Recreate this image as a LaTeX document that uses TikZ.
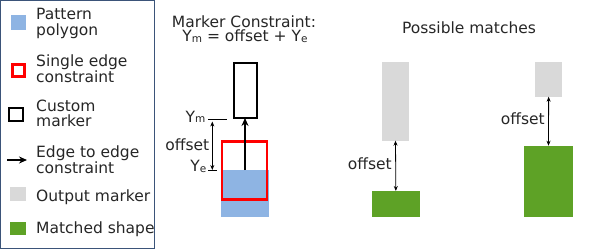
\documentclass[tikz,border=0pt]{standalone}
\usepackage{fontspec}
\setmainfont{DejaVu Sans}
\usetikzlibrary{arrows.meta}

\definecolor{patblue}{HTML}{8EB4E3}
\definecolor{outgray}{HTML}{D9D9D9}
\definecolor{matchgreen}{HTML}{5EA226}
\definecolor{framec}{HTML}{3B5479}
\definecolor{txt}{HTML}{262626}

% small letter set on the baseline, as in Y_m and Y_e
\newcommand{\lowidx}[1]{\raisebox{-0.6pt}{\fontsize{10.5}{10.5}\selectfont #1}}

\tikzset{
  plainrect/.style={rectangle, inner sep=0pt, outer sep=0pt},
  patfill/.style={plainrect, fill=patblue},
  edgebox/.style={plainrect, draw=red, line width=2.7pt},
  markbox/.style={plainrect, draw=black, line width=2pt},
  outbox/.style={plainrect, fill=outgray},
  matchbox/.style={plainrect, fill=matchgreen},
  constr/.style={-{Stealth[length=8pt,width=7pt]}, line width=1.8pt},
  dimline/.style={{Stealth[length=5pt,width=4pt]}-{Stealth[length=5pt,width=4pt]}, line width=0.8pt},
  tickline/.style={line width=0.8pt},
  lbl/.style={anchor=base west, inner sep=0pt},
  rlbl/.style={anchor=base east, inner sep=0pt},
  ttl/.style={anchor=base, inner sep=0pt},
}

\begin{document}
\begin{tikzpicture}[x=1pt, y=-1pt, font=\fontsize{15.5}{17}\selectfont, text=txt]
\useasboundingbox (0,0) rectangle (605,250);

% ---- legend ----
\node[plainrect, draw=framec, line width=1pt, minimum width=154pt, minimum height=248pt] (legend) at (77.5,124.8) {};

\node[patfill, minimum width=15pt, minimum height=15pt] (lgpat) at (18,22.5) {};
\node[lbl] (lgpatA) at (36,19.5) {Pattern};
\node[lbl] (lgpatB) at (36,35) {polygon};

\node[edgebox, minimum width=12.5pt, minimum height=12.5pt] (lgedge) at (18.5,70.5) {};
\node[lbl] (lgedgeA) at (36,66) {Single edge};
\node[lbl] (lgedgeB) at (36,82) {constraint};

\node[markbox, minimum width=13.5pt, minimum height=13pt] (lgmark) at (16,114) {};
\node[lbl] (lgmarkA) at (36,111) {Custom};
\node[lbl] (lgmarkB) at (36,126.5) {marker};

\coordinate (lgarrS) at (7,160);
\coordinate (lgarrE) at (27,160);
\draw[-{Stealth[length=8pt,width=7pt]}, line width=1.3pt] (lgarrS) -- (lgarrE);
\node[lbl] (lgarrA) at (36,157.5) {Edge to edge};
\node[lbl] (lgarrB) at (36,173.5) {constraint};

\node[outbox, minimum width=16pt, minimum height=14pt] (lgout) at (18,194) {};
\node[lbl] (lgoutA) at (36,201) {Output marker};

\node[matchbox, minimum width=16pt, minimum height=13pt] (lgmatch) at (18,228.5) {};
\node[lbl] (lgmatchA) at (36,233.5) {Matched shape};

% ---- marker constraint ----
\node[ttl] (mcA) at (244,27.5) {Marker Constraint:};
\node[ttl] (mcB) at (245,41.5) {Y\lowidx{m} = offset + Y\lowidx{e}};

\node[markbox, minimum width=23.6pt, minimum height=55.3pt] (mk) at (245.5,90.35) {};
\node[patfill, minimum width=48pt, minimum height=47.3pt] (pat) at (245,193.65) {};
\node[edgebox, minimum width=45pt, minimum height=58pt] (edge) at (244.5,170.3) {};
\draw[constr] (pat.north) -- (pat.north |- mk.south);

\coordinate (ymA) at (208,119);
\coordinate (ymB) at (227,119);
\coordinate (yeA) at (208,170.5);
\coordinate (yeB) at (217,170.5);
\coordinate (dimT) at (212.3,121.5);
\coordinate (dimB) at (212.3,170);
\draw[tickline] (ymA) -- (ymB);
\draw[tickline] (yeA) -- (yeB);
\draw[dimline] (dimT) -- (dimB);
\node[rlbl] (ymlbl) at (205.5,122) {Y\lowidx{m}};
\node[rlbl] (yelbl) at (206.5,171.5) {Y\lowidx{e}};
\node[rlbl] (offA) at (209.5,150.5) {offset};

% ---- possible matches ----
\node[ttl] (pm) at (469,33.3) {Possible matches};

\node[outbox, minimum width=27.6pt, minimum height=79pt] (outA) at (395.5,101.2) {};
\node[matchbox, minimum width=48.3pt, minimum height=26.3pt] (matchA) at (395.85,204.15) {};
\draw[dimline] (outA.south) -- (matchA.north);
\node[rlbl] (offB) at (392,169.5) {offset};

\node[outbox, minimum width=27.3pt, minimum height=35pt] (outB) at (548.65,79.2) {};
\node[matchbox, minimum width=48.4pt, minimum height=71.6pt] (matchB) at (548.5,181.5) {};
\draw[dimline] (outB.south) -- (matchB.north);
\node[rlbl] (offC) at (545,124) {offset};
\end{tikzpicture}
\end{document}
